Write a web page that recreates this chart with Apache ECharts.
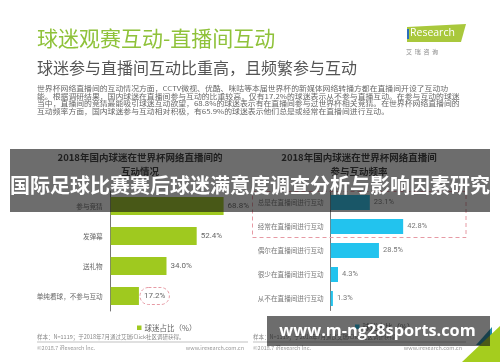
<!DOCTYPE html>
<html>
<head>
<meta charset="utf-8">
<script src="https://cdn.jsdelivr.net/npm/echarts@6/dist/echarts.min.js"></script>
<style>
  html, body { margin: 0; padding: 0; background: #fff; }
  #main { width: 500px; height: 362px; }
</style>
</head>
<body>
<div id="main"></div>
<script>
// 左图：互动情况
var interactCats = ['参与竞猜', '发弹幕', '送礼物', '单纯看球，不参与互动'];
var interactVals = [68.8, 52.4, 34.0, 17.2];
var interactMark = '单纯看球，不参与互动';

// 右图：互动频率
var freqCats = ['总是在直播间进行互动', '经常在直播间进行互动', '偶尔在直播间进行互动', '很少在直播间进行互动', '从不在直播间进行互动'];
var freqVals = [23.1, 42.8, 28.5, 4.3, 1.3];
var freqMark = ['总是在直播间进行互动', '经常在直播间进行互动'];

var legendLeft = '球迷占比（%）';
var legendRight = '球迷占比（%） ';

var paraLines = [
  '世界杯网络直播间的互动情况方面，CCTV微视、优酷、咪咕等本届世界杯的新媒体网络转播方都在直播间开设了互动功',
  '能。根据调研结果，国内球迷在直播间参与互动的比重较高，仅有17.2%的球迷表示从不参与直播互动。在参与互动的球迷',
  '当中，直播间的竞猜最能吸引球迷互动欲望，68.8%的球迷表示有在直播间参与过世界杯相关竞猜。在世界杯网络直播间的',
  '互动频率方面，国内球迷参与互动相对积极，有65.9%的球迷表示他们总是或经常在直播间进行互动。'
];

var green = '#9fc91f';
var cyan = '#22c3ee';
var cjk = '"Noto Sans CJK SC", "Noto Sans", sans-serif';

var chart = echarts.init(document.getElementById('main'));

function txt(x, y, s, size, color, extra) {
  var st = { text: s, x: 0, y: 0, fill: color, font: (extra && extra.weight ? extra.weight + ' ' : '') + size + 'px ' + cjk };
  if (extra && extra.align) st.align = extra.align;
  st.verticalAlign = 'middle';
  var el = { type: 'text', x: x, y: y, z: (extra && extra.z) || 10, style: st };
  if (extra && extra.sx) el.scaleX = extra.sx;
  return el;
}

var gfx = [];
// 标题
gfx.push(txt(37, 38.5, '球迷观赛互动-直播间互动', 21, '#8fc23a'));
gfx.push(txt(37, 68, '球迷参与直播间互动比重高，且频繁参与互动', 16, '#555'));
var py = [88.5, 96, 103.5, 111];
paraLines.forEach(function (l, i) { gfx.push(txt(37, py[i], l, 6.6, '#666', { sx: 1.19 })); });

// logo
gfx.push({ type: 'polygon', z: 10, shape: { points: [[407, 27], [466, 24], [461, 42], [407, 42]] }, style: { fill: '#a9c83c' } });
gfx.push({ type: 'text', x: 410, y: 33.5, z: 11, style: { text: 'Research', fill: '#fff', font: '10.5px "Open Sans", sans-serif', verticalAlign: 'middle' } });
gfx.push({ type: 'rect', z: 11, shape: { x: 407, y: 29, width: 2, height: 10 }, style: { fill: '#2a6ebb' } });
gfx.push(txt(406, 51.5, '艾  瑞  咨  询', 6, '#888'));

// 图表标题
gfx.push(txt(140, 157, '2018年国内球迷在世界杯网络直播间的', 9.5, '#333', { align: 'center', weight: 'bold' }));
gfx.push(txt(140, 171, '互动情况', 9.5, '#333', { align: 'center', weight: 'bold' }));
gfx.push(txt(359, 157, '2018年国内球迷在世界杯网络直播间', 9.5, '#333', { align: 'center', weight: 'bold' }));
gfx.push(txt(359, 171, '参与互动频率', 9.5, '#333', { align: 'center', weight: 'bold' }));

// 页脚
[[37, 248], [253, 466]].forEach(function (f) {
  gfx.push(txt(f[0], 337, '样本：N=1119；于2018年7月通过艾瑞iClick社区调研获得。', 5.5, '#888'));
  gfx.push({ type: 'line', z: 10, shape: { x1: f[0], y1: 342, x2: f[1], y2: 342 }, style: { stroke: '#999', lineWidth: 0.6 } });
  gfx.push(txt(f[0], 347.5, '©2018.7 iResearch Inc.', 5.5, '#999'));
  gfx.push(txt(f[1] - 4, 347.5, 'www.iresearch.com.cn', 5.5, '#999', { align: 'right' }));
});
gfx.push({ type: 'polygon', z: 10, shape: { points: [[476, 345], [492, 327], [492, 345]] }, style: { fill: '#1f8aa8' } });
gfx.push({ type: 'polygon', z: 11, shape: { points: [[462, 362], [500, 326], [500, 362]] }, style: { fill: '#a5cd1e' } });
gfx.push(txt(483, 352, '30', 6, '#fff'));

// 覆盖层
gfx.push({ type: 'rect', z: 50, shape: { x: 10, y: 149, width: 480, height: 63 }, style: { fill: 'rgba(20,20,20,0.62)' } });
gfx.push(txt(250, 185, '国际足球比赛赛后球迷满意度调查分析与影响因素研究', 20, '#fff', { align: 'center', weight: 'bold', z: 51 }));
gfx.push({ type: 'rect', z: 50, shape: { x: 267, y: 316, width: 223, height: 30 }, style: { fill: 'rgba(20,20,20,0.62)' } });
gfx.push({ type: 'text', x: 377.5, y: 331.5, z: 51, style: { text: 'www.m-ng28sports.com', fill: '#fff', font: 'bold 16.3px "Open Sans", sans-serif', align: 'center', verticalAlign: 'middle' } });

var labelBase = { show: true, position: 'right', distance: 4, color: '#666', fontSize: 8, fontFamily: 'Roboto, sans-serif', formatter: function (p) { return p.value.toFixed(1) + '%'; } };

var option = {
  animation: false,
  textStyle: { fontFamily: cjk },
  grid: [
    { left: 110.7, top: 191, width: 164.1, height: 120 },
    { left: 330.7, top: 190.5, width: 255.4, height: 120 }
  ],
  xAxis: [
    { gridIndex: 0, type: 'value', min: 0, max: 100, show: false },
    { gridIndex: 1, type: 'value', min: 0, max: 100, show: false }
  ],
  yAxis: [
    { gridIndex: 0, type: 'category', inverse: true, data: interactCats,
      axisLine: { lineStyle: { color: '#777', width: 1 } }, axisTick: { show: false },
      axisLabel: { color: '#666', fontSize: 6.6, margin: 8 } },
    { gridIndex: 1, type: 'category', inverse: true, data: freqCats,
      axisLine: { lineStyle: { color: '#777', width: 1 } }, axisTick: { show: false },
      axisLabel: { color: '#777', fontSize: 6.6, margin: 7 } }
  ],
  legend: [
    { data: [legendLeft], left: 132, top: 319, icon: 'rect', itemWidth: 4.5, itemHeight: 4.5, itemGap: 3,
      textStyle: { fontSize: 7.5, color: '#666', padding: [0, 0, 0, -2] } },
    { data: [legendRight], left: 350, top: 318, icon: 'rect', itemWidth: 4.5, itemHeight: 4.5, itemGap: 3,
      textStyle: { fontSize: 7.5, color: '#666', padding: [0, 0, 0, -2] } }
  ],
  series: [
    { name: legendLeft, type: 'bar', xAxisIndex: 0, yAxisIndex: 0, barWidth: 18,
      itemStyle: { color: green }, label: labelBase,
      data: interactVals.map(function (v, i) {
        if (interactCats[i] !== interactMark) return v;
        return { value: v, label: { distance: 1, padding: [5, 4, 4, 4], borderColor: '#e69aa4', borderWidth: 1, borderType: [3, 2], borderRadius: 11 } };
      }) },
    { name: legendRight, type: 'bar', xAxisIndex: 1, yAxisIndex: 1, barWidth: 15,
      itemStyle: { color: cyan }, label: Object.assign({}, labelBase, { fontSize: 7.5, color: '#777' }),
      data: freqVals }
  ],
  graphic: gfx
};
chart.setOption(option);

// 虚线框：圈出“总是/经常”两行
var pTop = chart.convertToPixel({ gridIndex: 1 }, [0, freqCats.indexOf(freqMark[0])]);
var pBot = chart.convertToPixel({ gridIndex: 1 }, [0, freqCats.indexOf(freqMark[1])]);
gfx.push({ type: 'rect', z: 20, shape: { x: 252.5, y: pTop[1] - 11, width: 213.5, height: pBot[1] - pTop[1] + 22 },
  style: { fill: 'none', stroke: '#e69aa4', lineWidth: 1, lineDash: [4, 3] } });
chart.setOption({ graphic: gfx }, { replaceMerge: ['graphic'] });
</script>
</body>
</html>
